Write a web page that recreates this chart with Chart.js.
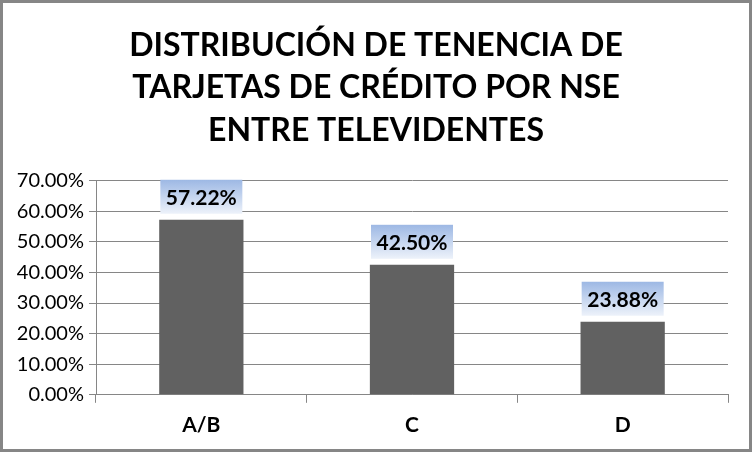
<!DOCTYPE html>
<html>
<head>
<meta charset="utf-8">
<script src="https://cdn.jsdelivr.net/npm/chart.js@4"></script>
<style>
  html, body { margin: 0; padding: 0; background: #fff; }
  #wrap { width: 752px; height: 452px; }
</style>
</head>
<body>
<div id="wrap"><canvas id="barChart" width="752" height="452"></canvas></div>
<script>
var categories = ['A/B', 'C', 'D'];
var tenencia = [57.22, 42.50, 23.88];
var titleLines = ['DISTRIBUCIÓN DE TENENCIA DE', 'TARJETAS DE CRÉDITO POR NSE', 'ENTRE TELEVIDENTES'];

// white background and grey frame like the original picture
var framePlugin = {
    id: 'frame',
    beforeDraw: function (chart) {
        var c = chart.ctx;
        c.save();
        c.fillStyle = '#ffffff';
        c.fillRect(0, 0, chart.width, chart.height);
        c.restore();
    },
    afterDraw: function (chart) {
        var c = chart.ctx;
        c.save();
        c.strokeStyle = '#868686';
        c.lineWidth = 3;
        c.strokeRect(1.5, 1.5, chart.width - 3, chart.height - 3);
        c.restore();
    }
};

// value labels in a light blue box above each bar
var labelPlugin = {
    id: 'valueBoxes',
    afterDatasetsDraw: function (chart) {
        var c = chart.ctx;
        var meta = chart.getDatasetMeta(0);
        meta.data.forEach(function (bar, i) {
            var w = 82, h = 34;
            var x0 = bar.x - w / 2;
            var y1 = bar.y - 6;
            var y0 = y1 - h;
            c.save();
            var g = c.createLinearGradient(0, y0, 0, y1);
            g.addColorStop(0, '#9db8e4');
            g.addColorStop(1, '#edf2fa');
            c.fillStyle = g;
            c.fillRect(x0, y0, w, h);
            c.fillStyle = '#000000';
            c.font = 'bold 21px Lato';
            c.textAlign = 'center';
            c.textBaseline = 'middle';
            c.fillText(tenencia[i].toFixed(2) + '%', bar.x, y0 + h / 2 + 1);
            c.restore();
        });
    }
};

var ctx = document.getElementById('barChart').getContext('2d');
var myChart = new Chart(ctx, {
    type: 'bar',
    data: {
        labels: categories,
        datasets: [{
            label: 'Tenencia',
            data: tenencia,
            backgroundColor: '#616161',
            borderWidth: 0,
            categoryPercentage: 1,
            barPercentage: 0.4
        }]
    },
    options: {
        responsive: false,
        animation: false,
        layout: { padding: { left: 3, right: 3, top: 0, bottom: 4 } },
        plugins: {
            legend: { display: false },
            tooltip: { enabled: false },
            title: {
                display: true,
                text: titleLines,
                color: '#000000',
                font: { family: 'Lato', size: 32, weight: 'bold', lineHeight: 1.33 },
                padding: { top: 24, bottom: 29 }
            }
        },
        scales: {
            x: {
                grid: { drawOnChartArea: false, drawTicks: true, tickLength: 8, color: '#868686' },
                border: { color: '#868686' },
                ticks: { color: '#000000', font: { family: 'Lato', size: 21, weight: 'bold' }, padding: 10 }
            },
            y: {
                min: 0,
                max: 70,
                afterFit: function (scale) { scale.width = 93; },
                grid: { color: '#868686', tickLength: 7 },
                border: { color: '#868686' },
                ticks: {
                    stepSize: 10,
                    color: '#000000',
                    padding: 5,
                    font: { family: 'Lato', size: 20 },
                    callback: function (v) { return v.toFixed(2) + '%'; }
                }
            },
            // empty right margin so the title stays centred on the whole picture
            yRight: {
                position: 'right',
                min: 0,
                max: 70,
                afterFit: function (scale) { scale.width = 21; },
                grid: { display: false },
                border: { display: false },
                ticks: { display: false }
            }
        }
    },
    plugins: [framePlugin, labelPlugin]
});
</script>
</body>
</html>
